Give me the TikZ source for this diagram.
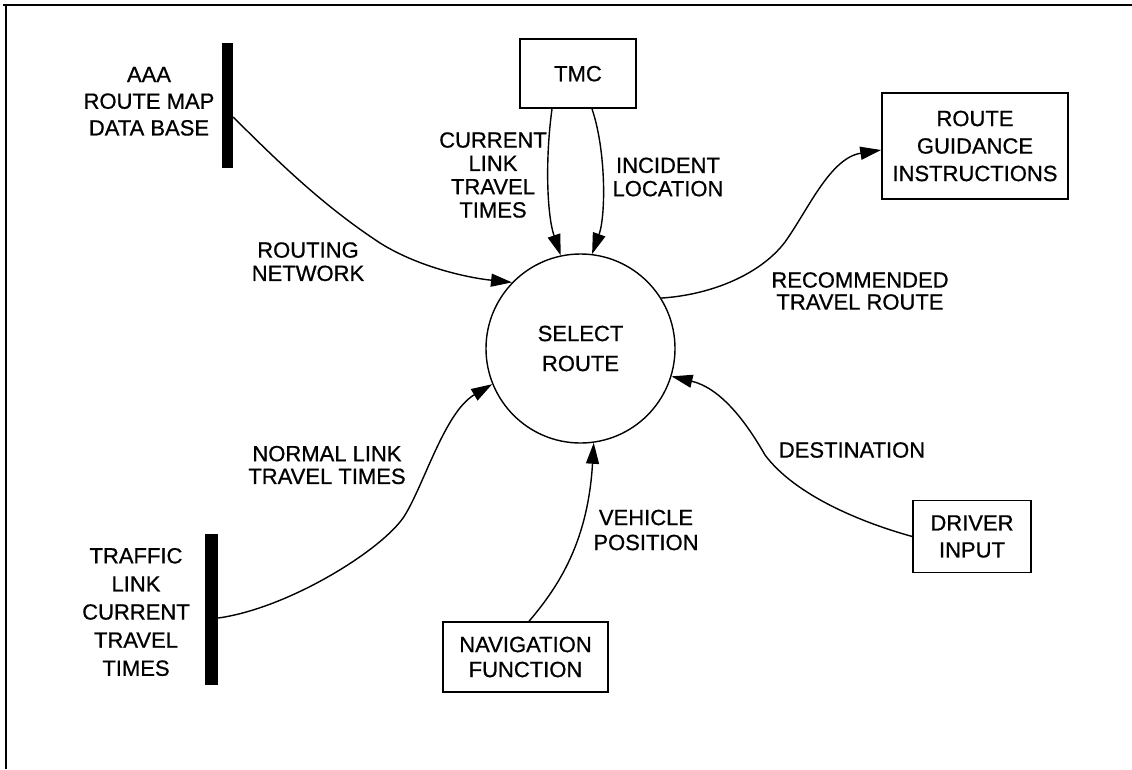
\documentclass[tikz,border=0pt]{standalone}
\usepackage{fontspec}
\setmainfont{Liberation Sans}[FakeBold=0.7]
\usetikzlibrary{arrows.meta}
\begin{document}
\begin{tikzpicture}[x=1pt,y=-1pt,
  lbl/.style={inner sep=0pt, align=center},
  box/.style={draw, line width=1.5pt, inner sep=0pt, align=center},
  store/.style={fill=black, draw=none, inner sep=0pt},
  flow/.style={line width=1.4pt, -{Triangle[length=21pt,width=13pt]}},
  frameline/.style={line width=2.2pt}]
\useasboundingbox (0,0) rectangle (1132,769);
% frame
\draw[frameline] (3,5) -- (1132,5);
\draw[frameline] (6,5) -- (6,769);

% data stores
\node[store, minimum width=11pt, minimum height=125pt] (aaa) at (227.5,105.5) {};
\node[lbl, font={\fontsize{22}{26.7}\selectfont}] (aaat) at (149,101.3) {AAA\\ROUTE MAP\\DATA BASE};
\node[store, minimum width=13pt, minimum height=151pt] (tlc) at (211.5,609.5) {};
\node[lbl, font={\fontsize{22}{28.1}\selectfont}] (tlct) at (136,612) {TRAFFIC\\LINK\\CURRENT\\TRAVEL\\TIMES};

% process
\node[draw, circle, line width=1.4pt, minimum size=189pt, inner sep=0pt, align=center,
      font={\fontsize{22}{30}\selectfont}] (sel) at (580.5,348.5) {SELECT\\ROUTE};

% terminators
\node[box, minimum width=116pt, minimum height=69pt, font={\fontsize{22}{26}\selectfont}] (tmc) at (578,73.7) {TMC};
\node[box, minimum width=186pt, minimum height=106pt, font={\fontsize{22}{27.5}\selectfont}] (rgi) at (975,146) {ROUTE\\GUIDANCE\\INSTRUCTIONS};
\node[box, minimum width=165pt, minimum height=70pt, font={\fontsize{22}{25}\selectfont}] (nav) at (525.5,657) {NAVIGATION\\FUNCTION};
\node[box, minimum width=118pt, minimum height=72pt, font={\fontsize{22}{27}\selectfont}] (drv) at (972,536.5) {DRIVER\\INPUT};

% flow labels
\node[lbl, font={\fontsize{22}{23.3}\selectfont}] (l1) at (493,175) {CURRENT\\LINK\\TRAVEL\\TIMES};
\node[lbl, font={\fontsize{22}{23.3}\selectfont}] (l2) at (668,177) {INCIDENT\\LOCATION};
\node[lbl, font={\fontsize{22}{23.3}\selectfont}] (l3) at (308,261.7) {ROUTING\\NETWORK};
\node[lbl, font={\fontsize{22}{22}\selectfont}] (l4) at (860,291) {RECOMMENDED\\TRAVEL ROUTE};
\node[lbl, font={\fontsize{22}{22.7}\selectfont}] (l5) at (327,465) {NORMAL LINK\\TRAVEL TIMES};
\node[lbl, font={\fontsize{22}{25}\selectfont}] (l6) at (646,530) {VEHICLE\\POSITION};
\node[lbl, font={\fontsize{22}{25}\selectfont}] (l7) at (852,450) {DESTINATION};

% flows
\draw[flow] ([yshift=-11.5pt]aaa.east) .. controls (290,174) and (330,210) .. (380,243)
  .. controls (420,268) and (470,278) .. (sel.136.3);
\draw[flow] ([xshift=-26pt]tmc.south) .. controls (545,160) and (547,215) .. (sel.102.2);
\draw[flow] ([xshift=14pt]tmc.south) .. controls (606,150) and (606,215) .. (sel.83);
\draw[flow] (sel.32.3) .. controls (710,295) and (760,275) .. (785,242)
  .. controls (808,210) and (830,158) .. ([yshift=-4pt]rgi.west);
\draw[flow] ([yshift=-8.5pt]tlc.east) .. controls (290,608) and (385,548) .. (405,515)
  .. controls (425,482) and (445,412) .. (sel.202.1);
\draw[flow] ([xshift=3.5pt]nav.north) .. controls (560,585) and (588,540) .. (sel.-82.5);
\draw[flow] (drv.west) .. controls (860,522) and (795,495) .. (765,455)
  .. controls (745,420) and (720,388) .. (sel.-17.3);
\end{tikzpicture}
\end{document}
